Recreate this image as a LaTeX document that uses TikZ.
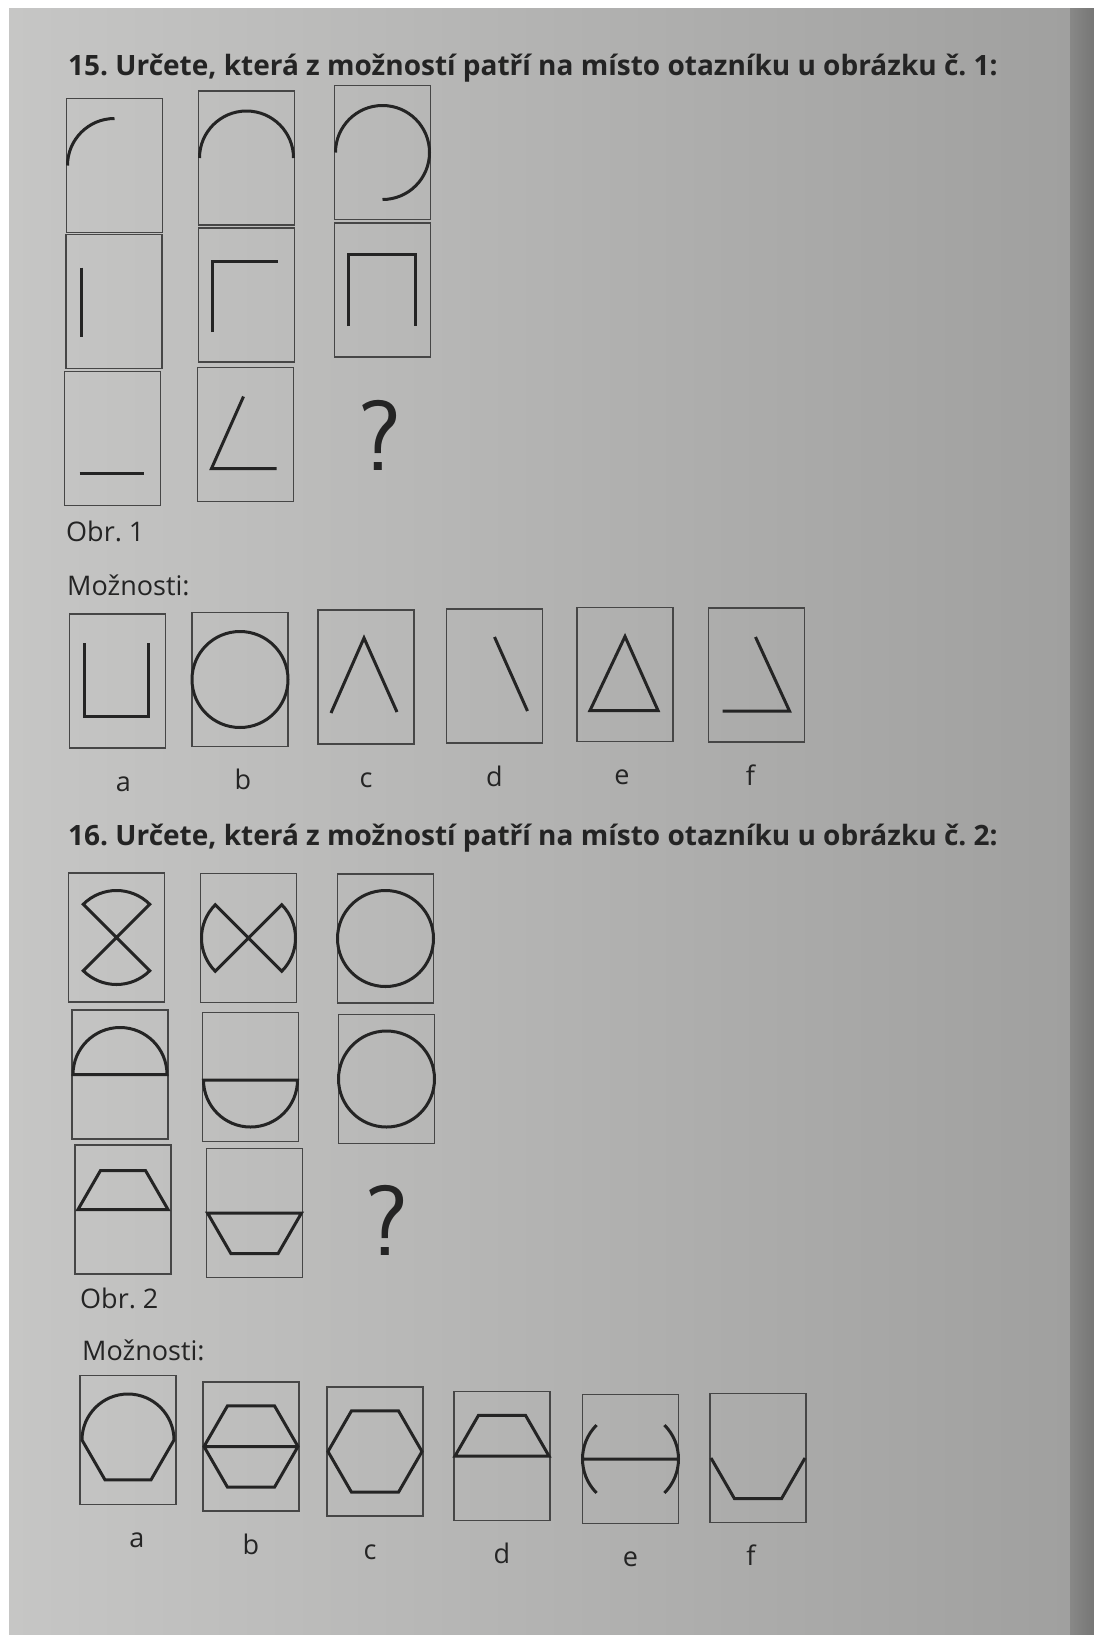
\documentclass[tikz,border=0pt]{standalone}
\usepackage{fontspec}
\setmainfont{Open Sans}
\usepackage{tikz}
\usetikzlibrary{positioning}
\definecolor{pagelight}{RGB}{198,198,197}
\definecolor{pagedark}{RGB}{160,160,159}
\definecolor{edgedark}{RGB}{118,118,117}
\definecolor{ink}{RGB}{36,36,36}
\definecolor{boxline}{RGB}{70,70,70}

\begin{document}
\frenchspacing
\begin{tikzpicture}[
    x=1pt, y=1pt,
    cell/.style={
      draw=boxline,
      line width=1.6pt,
      minimum width=96pt,
      minimum height=134pt,
      inner sep=0pt
    },
    cellb/.style={cell, minimum height=129pt},
    fig/.style={draw=ink, line width=3pt},
    head/.style={
      anchor=base west,
      inner sep=0pt,
      text=ink,
      font=\fontsize{28}{34}\selectfont\bfseries
    },
    obrtext/.style={
      anchor=base west,
      inner sep=0pt,
      text=ink,
      font=\fontsize{27}{32}\selectfont
    },
    lab/.style={
      inner sep=0pt,
      text=ink,
      text height=20pt,
      text depth=6pt,
      font=\fontsize{27}{32}\selectfont
    },
    ask/.style={
      anchor=base,
      inner sep=0pt,
      text=ink,
      font=\fontsize{100}{110}\selectfont\sffamily
    }
]
  % Page
  \useasboundingbox (0,0) rectangle (1094,-1636);
  \fill[white] (0,0) rectangle (1094,-1636);
  \shade[left color=pagelight, right color=pagedark] (9,-8) rectangle (1070,-1634);
  \shade[left color=pagedark!85!black, right color=edgedark] (1070,-8) rectangle (1094,-1634);

  % Task 15
  \node[head] (t1) at (68,-75) {15. Určete, která z možností patří na místo otazníku u obrázku č. 1:};

  \node[cell] (a11) at (114.5,-165.5) {};
  \node[cell] (a12) at (246.5,-158) {};
  \node[cell] (a13) at (382.5,-152.5) {};
  \node[cell] (a21) at (114,-301.5) {};
  \node[cell] (a22) at (246.5,-295) {};
  \node[cell] (a23) at (382.5,-290) {};
  \node[cell] (a31) at (112.5,-438.5) {};
  \node[cell] (a32) at (245.5,-434.5) {};
  \node[ask] (q1) at (380,-470) {?};

  \draw[fig, shift={(a11.center)}] (180:47) arc[start angle=180, end angle=90, radius=47];
  \draw[fig, shift={(a12.center)}] (180:47) arc[start angle=180, end angle=0, radius=47];
  \draw[fig, shift={(a13.center)}] (180:47) arc[start angle=180, end angle=-90, radius=47];
  \draw[fig, shift={(a21.center)}] (-33,34) -- (-33,-35);
  \draw[fig, shift={(a22.center)}] (-34,-37) -- (-34,34) -- (31,34);
  \draw[fig, shift={(a23.center)}] (-34,-36) -- (-34,36) -- (33,36) -- (33,-36);
  \draw[fig, shift={(a31.center)}] (-33,-35) -- (31,-35);
  \draw[fig, shift={(a32.center)}] (-2,38) -- (-34,-34) -- (31,-34);

  \node[obrtext] (obr1) at (66,-541) {Obr. 1};
  \node[obrtext] (mo1) at (67,-595) {Možnosti:};

  % Options for task 15
  \node[cell] (b1) at (117.5,-681) {};
  \node[cell] (b2) at (240,-679.5) {};
  \node[cell] (b3) at (366,-677) {};
  \node[cell] (b4) at (494.5,-676) {};
  \node[cell] (b5) at (625,-674.5) {};
  \node[cell] (b6) at (756.5,-675) {};

  \draw[fig, shift={(b1.center)}] (-33,38) -- (-33,-35) -- (31,-35) -- (31,38);
  \draw[fig, shift={(b2.center)}] (0,0) circle[radius=48];
  \draw[fig, shift={(b3.center)}] (-35,-36) -- (-2,39) -- (31,-35);
  \draw[fig, shift={(b4.center)}] (0,39) -- (33,-35);
  \draw[fig, shift={(b5.center)}] (0,38) -- (-35,-36) -- (33,-36) -- cycle;
  \draw[fig, shift={(b6.center)}] (-1,38) -- (33,-36) -- (-34,-36);

  \node[lab, below=22pt of b1, xshift=6pt] (lb1) {a};
  \node[lab, below=22pt of b2, xshift=3pt] (lb2) {b};
  \node[lab, below=22pt of b3] (lb3) {c};
  \node[lab, below=22pt of b4] (lb4) {d};
  \node[lab, below=22pt of b5, xshift=-3pt] (lb5) {e};
  \node[lab, below=22pt of b6, xshift=-6pt] (lb6) {f};

  % Task 16
  \node[head] (t2) at (68,-845) {16. Určete, která z možností patří na místo otazníku u obrázku č. 2:};

  \node[cellb] (c11) at (116.5,-937.5) {};
  \node[cellb] (c12) at (248.5,-938) {};
  \node[cellb] (c13) at (385.5,-938.5) {};
  \node[cellb] (c21) at (120,-1074.5) {};
  \node[cellb] (c22) at (250.5,-1077) {};
  \node[cellb] (c23) at (386.5,-1079) {};
  \node[cellb] (c31) at (123,-1209.5) {};
  \node[cellb] (c32) at (254.5,-1213) {};
  \node[ask] (q2) at (387,-1255) {?};

  \draw[fig, shift={(c11.center)}] (0,0) -- (135:47) arc[start angle=135, end angle=45, radius=47] -- cycle
    (0,0) -- (225:47) arc[start angle=225, end angle=315, radius=47] -- cycle;
  \draw[fig, shift={(c12.center)}] (0,0) -- (135:47) arc[start angle=135, end angle=225, radius=47] -- cycle
    (0,0) -- (-45:47) arc[start angle=-45, end angle=45, radius=47] -- cycle;
  \draw[fig, shift={(c13.center)}] (0,0) circle[radius=48];
  \draw[fig, shift={(c21.center)}] (180:47) arc[start angle=180, end angle=0, radius=47] -- cycle;
  \draw[fig, shift={(c22.center)}] (-47,-3) arc[start angle=180, end angle=360, radius=47] -- cycle;
  \draw[fig, shift={(c23.center)}] (0,0) circle[radius=48];
  \draw[fig, shift={(c31.center)}] (0:45) -- (60:45) -- (120:45) -- (180:45) -- cycle;
  \draw[fig, shift={(c32.center)}] (0:47) -- (-60:47) -- (-120:47) -- (180:47) -- cycle;

  \node[obrtext] (obr2) at (80,-1308) {Obr. 2};
  \node[obrtext] (mo2) at (82,-1360) {Možnosti:};

  % Options for task 16
  \node[cellb] (d1) at (128,-1440) {};
  \node[cellb] (d2) at (251,-1446.5) {};
  \node[cellb] (d3) at (375,-1451.5) {};
  \node[cellb] (d4) at (502,-1456) {};
  \node[cellb] (d5) at (630.5,-1459) {};
  \node[cellb] (d6) at (758,-1458) {};

  \draw[fig, shift={(d1.center)}] (180:46) arc[start angle=180, end angle=0, radius=46] -- (-60:46) -- (-120:46) -- cycle;
  \draw[fig, shift={(d2.center)}] (0:47) -- (60:47) -- (120:47) -- (180:47) -- (240:47) -- (300:47) -- cycle
    (180:47) -- (0:47);
  \draw[fig, shift={(d3.center)}] (0:47) -- (60:47) -- (120:47) -- (180:47) -- (240:47) -- (300:47) -- cycle;
  \draw[fig, shift={(d4.center)}] (0:47) -- (60:47) -- (120:47) -- (180:47) -- cycle;
  \draw[fig, shift={(d5.center)}] (180:48) -- (0:48)
    (135:48) arc[start angle=135, end angle=225, radius=48]
    (-45:48) arc[start angle=-45, end angle=45, radius=48];
  \draw[fig, shift={(d6.center)}] (180:47) -- (240:47) -- (300:47) -- (0:47);

  \node[lab, below=22pt of d1, xshift=9pt] (ld1) {a};
  \node[lab, below=22pt of d2] (ld2) {b};
  \node[lab, below=22pt of d3, xshift=-5pt] (ld3) {c};
  \node[lab, below=22pt of d4] (ld4) {d};
  \node[lab, below=22pt of d5] (ld5) {e};
  \node[lab, below=22pt of d6, xshift=-7pt] (ld6) {f};
\end{tikzpicture}
\end{document}
